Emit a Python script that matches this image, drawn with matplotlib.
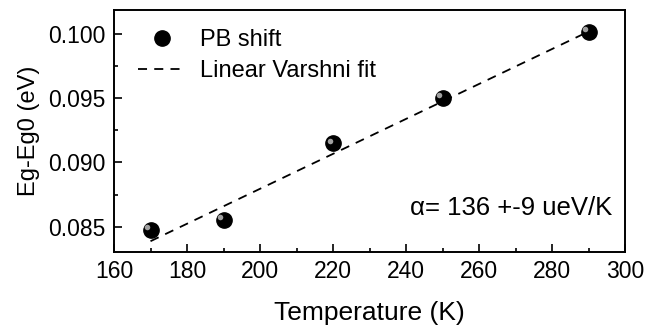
import numpy as np
import matplotlib
matplotlib.use("Agg")
import matplotlib.pyplot as plt
from matplotlib.ticker import MultipleLocator, FormatStrFormatter

plt.rcParams['font.family'] = ['Liberation Sans', 'DejaVu Sans']

temperature = [170, 190, 220, 250, 290]
shift = [0.08474, 0.08553, 0.09148, 0.09505, 0.10018]
fit_t = [170, 290]
alpha = 0.000136
fit_b = 0.08387

fig = plt.figure(figsize=(6.47, 3.26), dpi=100)
ax = fig.add_axes([114 / 647, 1 - 252 / 326, 511 / 647, 242 / 326])

fit_y = [fit_b + alpha * (t - fit_t[0]) for t in fit_t]
ax.plot(fit_t, fit_y, '--', color='black', lw=1.3, dashes=(5, 4),
        label='Linear Varshni fit', zorder=2)
ax.plot(temperature, shift, 'o', color='black', ms=11, mec='black',
        label='PB shift', zorder=3)
# sphere highlight
ax.plot(np.array(temperature) - 0.9, np.array(shift) + 0.0002, 'o',
        color='#a0a0a0', ms=4, mec='none', zorder=4)

ax.set_xlim(160, 300)
ax.set_ylim(0.08303, 0.10187)
ax.xaxis.set_major_locator(MultipleLocator(20))
ax.xaxis.set_minor_locator(MultipleLocator(10))
ax.yaxis.set_major_locator(MultipleLocator(0.005))
ax.yaxis.set_minor_locator(MultipleLocator(0.0025))
ax.yaxis.set_major_formatter(FormatStrFormatter('%.3f'))
ax.tick_params(which='both', direction='in', top=False, right=False,
               labelsize=16.5, width=1.2, pad=6)
ax.tick_params(which='major', length=6)
ax.tick_params(which='minor', length=3)
for s in ax.spines.values():
    s.set_linewidth(1.4)

ax.set_xlabel('Temperature (K)', fontsize=19, labelpad=13)
ax.set_ylabel('Eg-Eg0 (eV)', fontsize=17, labelpad=6)

h, l = ax.get_legend_handles_labels()
ax.legend([h[1], h[0]], [l[1], l[0]], loc='upper left', frameon=False,
          fontsize=17, handlelength=2.0, handletextpad=0.6,
          labelspacing=0.4, borderaxespad=0.2,
          bbox_to_anchor=(0.02, 0.98))

ax.text(0.975, 0.18, 'α= 136 +-9 ueV/K', transform=ax.transAxes,
        ha='right', va='center', fontsize=18.5)

fig.savefig('out.png', dpi=100)
